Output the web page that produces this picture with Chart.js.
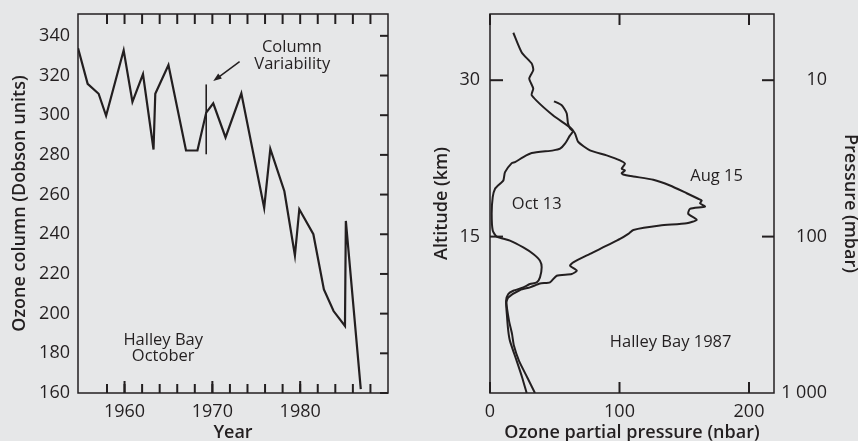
<!DOCTYPE html>
<html>
<head>
<meta charset="utf-8">
<script src="https://cdn.jsdelivr.net/npm/chart.js@4.4.0/dist/chart.umd.min.js"></script>
<style>
  html, body { margin: 0; padding: 0; background: #e6e7e8; overflow: hidden; }
  .panel { position: absolute; top: 0; height: 441px; }
  #left { left: 0; width: 430px; }
  #right { left: 430px; width: 428px; }
</style>
</head>
<body>
<div class="panel" id="left"><canvas id="ozoneColumn" width="430" height="441"></canvas></div>
<div class="panel" id="right"><canvas id="ozoneProfile" width="428" height="441"></canvas></div>
<script>
// Halley Bay, October mean total ozone (Dobson units)
const years = [1954.7, 1955.8, 1957.05, 1957.9, 1959.9, 1960.9, 1962.1, 1963.3, 1963.5, 1965.0,
  1967.0, 1968.3, 1969.3, 1970.1, 1971.5, 1973.3, 1975.9, 1976.6, 1978.2, 1979.4,
  1979.9, 1981.5, 1982.7, 1983.8, 1985.1, 1985.2, 1986.9]
const ozoneColumn = [333.8, 315.8, 310.8, 299.7, 332.7, 306.7, 320.7, 282.7, 310.8, 325.3,
  282.2, 282.2, 301.3, 306, 288.8, 311, 253.3, 283, 261.7, 229.3,
  252.6, 240, 212.2, 201.3, 193.8, 246.7, 162]
const variabilityYear = 1969.3
const variabilityRange = [280.3, 315.5]
const yearTicks = [1960, 1970, 1980]
const minorYearTicks = [1958, 1960, 1962, 1964, 1966, 1968, 1970, 1972, 1974, 1976, 1978, 1980, 1982, 1984, 1986, 1988]
const columnTicks = [160, 180, 200, 220, 240, 260, 280, 300, 320, 340]

// Halley Bay 1987 ozonesondes: partial pressure (nbar) against altitude (km)
const aug15Pressure = [18.0, 24.5, 32.2, 33.4, 30.3, 33.4, 32.2, 48.6, 61.8, 65.6,
  68.2, 77.2, 90.1, 100.4, 104.2, 101.7, 104.2, 101.7, 102.7, 110.7,
  126.1, 139.0, 151.9, 160.8, 163.5, 162.2, 166.0, 154.4, 153.1, 159.6,
  151.9, 131.3, 110.7, 106.8, 100.4, 77.2, 64.3, 61.8, 67.0, 63.1,
  51.5, 46.3, 38.6, 30.9, 23.2, 14.1, 12.7, 14.7, 17.0, 18.5,
  22.4, 28.6, 34.7]
const aug15Altitude = [34.55, 32.66, 31.6, 30.96, 30.16, 29.2, 28.56, 26.63, 25.48, 24.9,
  24.07, 23.27, 22.79, 22.31, 21.99, 21.51, 21.35, 21.09, 20.96, 20.77,
  20.45, 19.9, 19.16, 18.63, 18.46, 18.2, 17.88, 17.66, 17.18, 16.61,
  16.28, 16.06, 15.64, 15.26, 14.78, 13.34, 12.53, 12.21, 11.73, 11.41,
  11.25, 10.61, 10.51, 10.13, 9.88, 9.16, 8.65, 6.92, 5.67, 4.52,
  3.08, 1.54, 0]
const oct13Pressure = [49.4, 55.4, 59.2, 60.2, 61.8, 64.1, 61.8, 57.9, 54.1, 48.9,
  32.2, 25.7, 19.3, 16.8, 11.6, 10.3, 7.7, 3.9, 2.1, 1.3,
  2.1, 5.2, 15.4, 25.7, 33.4, 38.6, 39.9, 38.6, 36.1, 30.9,
  25.7, 18.0, 14.1, 12.4, 13.1, 14.1, 15.4, 20.6, 24.7, 28.3]
const oct13Altitude = [27.98, 27.6, 26.83, 25.87, 25.38, 25.1, 24.71, 23.91, 23.43, 23.27,
  23.01, 22.63, 22.14, 22.05, 21.18, 20.38, 20.07, 19.59, 18.78, 17.18,
  15.58, 15.0, 14.62, 13.97, 13.34, 12.69, 12.05, 11.09, 10.61, 10.45,
  10.13, 9.81, 9.49, 8.85, 7.4, 5.96, 5.0, 3.08, 1.54, 0]
const partialTicks = [0, 100, 200]
const altitudeTicks = [15, 30]
const pressureTicks = [10, 100, 1000]

const INK = '#231f20'
const FONT = "'Open Sans', sans-serif"

Chart.defaults.font.family = FONT
Chart.defaults.font.size = 18
Chart.defaults.color = INK
Chart.defaults.animation = false

const zip = (xs, ys) => xs.map((x, i) => ({ x, y: ys[i] }))
const fixTicks = (list) => (s) => { s.ticks = list.map((v) => ({ value: v })) }
const noPad = (s) => { s.paddingTop = 0; s.paddingBottom = 0; s.paddingLeft = 0; s.paddingRight = 0 }
const titleFont = { family: FONT, size: 18, weight: '600' }
const hidden = { display: false, drawTicks: false }

// frame, inward tick marks, text labels and arrows, all placed through the chart scales
function makeFrame({ marks = [], notes = [], arrows = [] }) {
  return {
    id: 'frame',
    afterDraw(chart) {
      const { ctx, chartArea: a, scales } = chart
      ctx.save()
      ctx.strokeStyle = INK
      ctx.lineWidth = 1.5
      ctx.strokeRect(a.left, a.top, a.right - a.left, a.bottom - a.top)
      ctx.lineWidth = 2
      for (const m of marks) {
        const s = scales[m.scale]
        for (const v of m.values) {
          const p = s.getPixelForValue(v)
          ctx.beginPath()
          if (m.side === 'bottom') { ctx.moveTo(p, a.bottom); ctx.lineTo(p, a.bottom - m.len) }
          if (m.side === 'top') { ctx.moveTo(p, a.top); ctx.lineTo(p, a.top + m.len) }
          if (m.side === 'left') { ctx.moveTo(a.left, p); ctx.lineTo(a.left + m.len, p) }
          if (m.side === 'right') { ctx.moveTo(a.right, p); ctx.lineTo(a.right - m.len, p) }
          ctx.stroke()
        }
      }
      ctx.fillStyle = INK
      ctx.font = `16.5px ${FONT}`
      ctx.textAlign = 'center'
      ctx.textBaseline = 'middle'
      for (const n of notes) {
        ctx.fillText(n.text, scales.x.getPixelForValue(n.x), scales.y.getPixelForValue(n.y))
      }
      ctx.lineWidth = 1.5
      for (const r of arrows) {
        const x0 = scales.x.getPixelForValue(r.from[0]), y0 = scales.y.getPixelForValue(r.from[1])
        const x1 = scales.x.getPixelForValue(r.to[0]), y1 = scales.y.getPixelForValue(r.to[1])
        const ang = Math.atan2(y1 - y0, x1 - x0)
        const head = 9
        ctx.beginPath()
        ctx.moveTo(x0, y0)
        ctx.lineTo(x1 - Math.cos(ang) * head * 0.8, y1 - Math.sin(ang) * head * 0.8)
        ctx.stroke()
        ctx.beginPath()
        ctx.moveTo(x1, y1)
        ctx.lineTo(x1 - head * Math.cos(ang - 0.35), y1 - head * Math.sin(ang - 0.35))
        ctx.lineTo(x1 - head * Math.cos(ang + 0.35), y1 - head * Math.sin(ang + 0.35))
        ctx.closePath()
        ctx.fill()
      }
      ctx.restore()
    }
  }
}

new Chart(document.getElementById('ozoneColumn'), {
  type: 'scatter',
  data: {
    datasets: [
      { data: zip(years, ozoneColumn), showLine: true, borderColor: INK, borderWidth: 2.2, pointRadius: 0, tension: 0 },
      { data: variabilityRange.map((v) => ({ x: variabilityYear, y: v })), showLine: true, borderColor: INK, borderWidth: 1.6, pointRadius: 0 }
    ]
  },
  options: {
    responsive: false,
    layout: { padding: { top: 14, right: 42, left: 0, bottom: 0 } },
    plugins: { legend: { display: false }, tooltip: { enabled: false } },
    scales: {
      x: {
        type: 'linear', min: 1954.7, max: 1990,
        afterBuildTicks: fixTicks(yearTicks),
        afterFit: (s) => { s.height = 48; noPad(s) },
        grid: hidden, border: { display: false },
        ticks: { padding: 8, callback: (v) => v },
        title: { display: true, text: 'Year', font: titleFont, padding: { top: 0, bottom: -3 } }
      },
      y: {
        min: 160, max: 351,
        afterBuildTicks: fixTicks(columnTicks),
        afterFit: (s) => { s.width = 78; noPad(s) },
        grid: hidden, border: { display: false },
        ticks: { padding: 8 },
        title: { display: true, text: 'Ozone column (Dobson units)', font: titleFont, padding: { top: 9, bottom: 0 } }
      }
    }
  },
  plugins: [makeFrame({
    marks: [
      { scale: 'x', side: 'bottom', values: minorYearTicks, len: 9 },
      { scale: 'x', side: 'bottom', values: yearTicks, len: 12 },
      { scale: 'x', side: 'top', values: minorYearTicks, len: 10 },
      { scale: 'y', side: 'right', values: columnTicks, len: 8 }
    ],
    notes: [
      { text: 'Column', x: 1979.06, y: 334.2 },
      { text: 'Variability', x: 1979.1, y: 325.5 },
      { text: 'Halley Bay', x: 1964.4, y: 186.8 },
      { text: 'October', x: 1964.4, y: 178.5 }
    ],
    arrows: [{ from: [1973.1, 327], to: [1970.1, 317.2] }]
  })]
})

new Chart(document.getElementById('ozoneProfile'), {
  type: 'scatter',
  data: {
    datasets: [
      { label: 'Aug 15', data: zip(aug15Pressure, aug15Altitude), showLine: true, borderColor: INK, borderWidth: 2, pointRadius: 0, tension: 0.2 },
      { label: 'Oct 13', data: zip(oct13Pressure, oct13Altitude), showLine: true, borderColor: INK, borderWidth: 2, pointRadius: 0, tension: 0.2 }
    ]
  },
  options: {
    responsive: false,
    layout: { padding: { top: 14, right: 31, left: 0, bottom: 0 } },
    plugins: { legend: { display: false }, tooltip: { enabled: false } },
    scales: {
      x: {
        type: 'linear', min: 0, max: 219.3,
        afterBuildTicks: fixTicks(partialTicks),
        afterFit: (s) => { s.height = 48; noPad(s) },
        grid: hidden, border: { display: false },
        ticks: { padding: 8 },
        title: { display: true, text: 'Ozone partial pressure (nbar)', font: titleFont, padding: { top: 0, bottom: -3 } }
      },
      y: {
        min: 0, max: 36.35,
        afterBuildTicks: fixTicks(altitudeTicks),
        afterFit: (s) => { s.width = 60; noPad(s) },
        grid: hidden, border: { display: false },
        ticks: { padding: 10 },
        title: { display: true, text: 'Altitude (km)', font: titleFont, padding: { top: 1, bottom: 0 } }
      },
      y2: {
        type: 'logarithmic', position: 'right', reverse: true, min: 3.773, max: 1000,
        afterBuildTicks: fixTicks(pressureTicks),
        afterFit: (s) => { s.width = 53; noPad(s) },
        grid: hidden, border: { display: false },
        ticks: { padding: 7, crossAlign: 'far', callback: (v) => (v === 1000 ? '1 000' : String(v)) },
        title: { display: true, text: 'Pressure (mbar)', font: titleFont, padding: { top: -34, bottom: 0 } }
      }
    }
  },
  plugins: [makeFrame({
    marks: [
      { scale: 'y', side: 'left', values: altitudeTicks, len: 13 },
      { scale: 'y', side: 'right', values: altitudeTicks, len: 12 },
      { scale: 'x', side: 'top', values: partialTicks, len: 11 },
      { scale: 'x', side: 'bottom', values: partialTicks, len: 11 }
    ],
    notes: [
      { text: 'Aug 15', x: 175, y: 20.77 },
      { text: 'Oct 13', x: 36.1, y: 18.14 },
      { text: 'Halley Bay 1987', x: 139.5, y: 4.84 }
    ]
  })]
})
</script>
</body>
</html>
